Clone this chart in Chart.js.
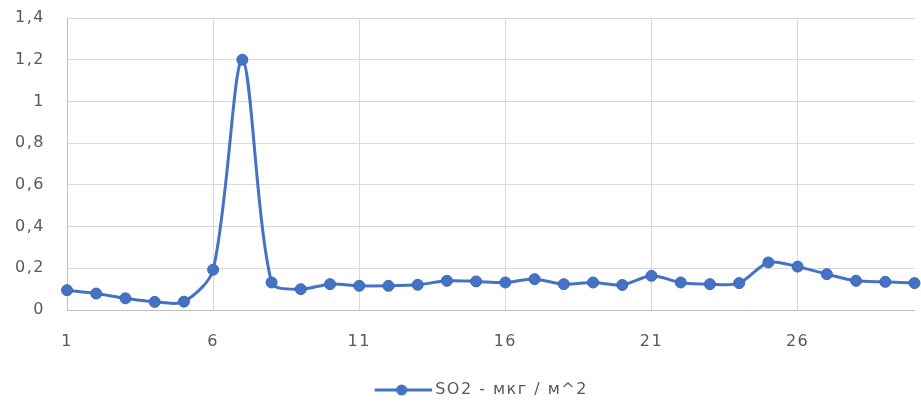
<!DOCTYPE html>
<html>
<head>
<meta charset="utf-8">
<script src="https://cdn.jsdelivr.net/npm/chart.js@4/dist/chart.umd.min.js"></script>
<style>
  html, body { margin: 0; padding: 0; background: #fff; }
  #wrap { width: 921px; height: 409px; }
</style>
</head>
<body>
<div id="wrap"><canvas id="chart" width="921" height="409"></canvas></div>
<script>
let days = [];
for (let d = 1; d <= 30; d++) days.push(String(d));

let so2 = [0.095, 0.079, 0.056, 0.039, 0.040, 0.193, 1.20, 0.132, 0.100, 0.124,
           0.116, 0.116, 0.121, 0.140, 0.137, 0.132, 0.148, 0.124, 0.132, 0.120,
           0.164, 0.132, 0.124, 0.129, 0.228, 0.208, 0.172, 0.140, 0.135, 0.129];

let seriesName = "SO2 - мкг / м^2";
let blue = "#4472C4";
let textGrey = "#595959";
let fontFamily = "'DejaVu Sans', sans-serif";
let fontSize = 16;

// legend marker: line with a circle on it, drawn at the right end of a wide box
let markBox = 98;
let legendMark = document.createElement("canvas");
legendMark.width = markBox + 9;
legendMark.height = 14;
let lm = legendMark.getContext("2d");
let lineStart = legendMark.width - 57;
lm.strokeStyle = blue;
lm.lineWidth = 3;
lm.beginPath();
lm.moveTo(lineStart, 7);
lm.lineTo(legendMark.width, 7);
lm.stroke();
lm.fillStyle = blue;
lm.beginPath();
lm.arc(lineStart + 27, 7, 5.5, 0, Math.PI * 2);
lm.fill();

// the reference text is set quite wide
let spacing = {
    id: "spacing",
    beforeUpdate(c) { c.ctx.letterSpacing = "1.5px"; },
    beforeDraw(c) { c.ctx.letterSpacing = "1.5px"; }
};

let chart = new Chart(document.getElementById("chart"), {
    type: 'line',
    data: {
        labels: days,
        datasets: [{
            label: seriesName,
            data: so2,
            borderColor: blue,
            backgroundColor: blue,
            borderWidth: 3,
            pointRadius: 5.5,
            pointBorderWidth: 1,
            pointBorderColor: "#3f66b0",
            pointBackgroundColor: blue,
            tension: 0.3,
            clip: false
        }]
    },
    plugins: [spacing],
    options: {
        responsive: false,
        animation: false,
        layout: { padding: { top: 18, right: 4, left: 0, bottom: 1 } },
        plugins: {
            tooltip: { enabled: false },
            legend: {
                position: 'bottom',
                labels: {
                    usePointStyle: true,
                    pointStyleWidth: markBox,
                    color: textGrey,
                    font: { family: fontFamily, size: fontSize },
                    padding: 8,
                    generateLabels: function(c) {
                        let items = Chart.defaults.plugins.legend.labels.generateLabels(c);
                        items.forEach(it => { it.pointStyle = legendMark; });
                        return items;
                    }
                }
            }
        },
        scales: {
            x: {
                afterFit: function(s) {
                    s.height = 64;
                    s.paddingLeft = 0;
                    s.paddingRight = 0;
                },
                grid: {
                    drawTicks: false,
                    color: ctx => (ctx.index % 5 === 0 && ctx.index > 0) ? "#d9d9d9" : "transparent"
                },
                border: { display: true, color: "#bfbfbf", width: 1 },
                ticks: {
                    autoSkip: false,
                    maxRotation: 0,
                    padding: 22,
                    color: textGrey,
                    font: { family: fontFamily, size: fontSize },
                    callback: function(v, i) { return i % 5 === 0 ? days[i] : ""; }
                }
            },
            y: {
                min: 0,
                max: 1.4,
                afterFit: function(s) {
                    s.width = 67;
                    s.paddingTop = 0;
                    s.paddingBottom = 0;
                },
                grid: { drawTicks: false, color: "#d9d9d9" },
                border: { display: true, color: "#bfbfbf", width: 1 },
                ticks: {
                    stepSize: 0.2,
                    padding: 22,
                    color: textGrey,
                    font: { family: fontFamily, size: fontSize },
                    callback: function(v) {
                        return String(Math.round(v * 10) / 10).replace(".", ",");
                    }
                }
            }
        }
    }
});
</script>
</body>
</html>
